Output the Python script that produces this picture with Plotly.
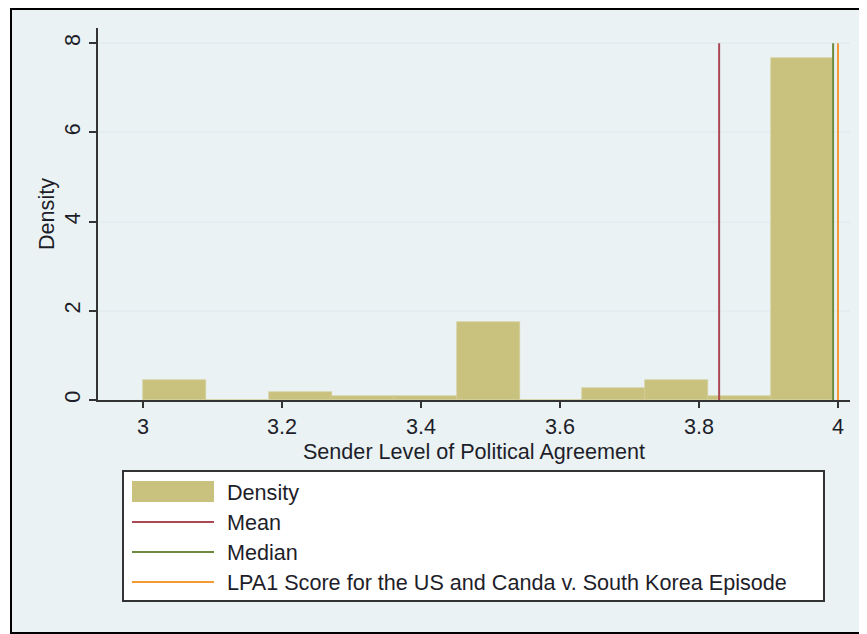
import plotly.graph_objects as go

# histogram bins (left edges) and density heights
BIN_LEFT = [3.000, 3.090, 3.181, 3.271, 3.361, 3.452, 3.542, 3.632, 3.722, 3.813, 3.903]
BIN_WIDTH = 0.0903
DENSITY = [0.44, 0.0, 0.18, 0.09, 0.09, 1.76, 0.0, 0.26, 0.44, 0.09, 7.66]

# reference lines
LINE_NAMES = ["Mean", "Median", "LPA1 Score for the US and Canda v. South Korea Episode"]
LINE_X = [3.829, 3.993, 4.0]
LINE_TOP = 8

X_TICKS = [3, 3.2, 3.4, 3.6, 3.8, 4]
X_TICK_TEXT = ["3", "3.2", "3.4", "3.6", "3.8", "4"]
Y_TICKS = [0, 2, 4, 6, 8]

BAR_COLOR = "#C9C27F"
LINE_COLORS = ["#AA4853", "#6E8B3D", "#F39A33"]
BG = "#EAF2F3"
INK = "#1E1E2A"
FONT = "Liberation Sans, Arial, sans-serif"
FS = 21.6

# page has an 8px body margin, so the figure is shifted by 8px
OFF = 8
W, H = 867 - OFF, 634 - OFF
ML, MR, MT, MB = 98 - OFF, 17, 28 - OFF, 234
PW, PH = W - ML - MR, H - MT - MB


def px(x):
    # screen pixel -> paper coordinate
    return (x - OFF - ML) / PW


def py(y):
    return (OFF + MT + PH - y) / PH


fig = go.Figure()

fig.add_trace(go.Bar(
    x=BIN_LEFT, y=DENSITY, width=BIN_WIDTH, offset=0,
    marker=dict(color=BAR_COLOR, line=dict(color="#D3CD96", width=0.6)),
    name="Density", showlegend=False,
))

for name, xv, col in zip(LINE_NAMES, LINE_X, LINE_COLORS):
    fig.add_trace(go.Scatter(
        x=[xv, xv], y=[0, LINE_TOP], mode="lines",
        line=dict(color=col, width=2), name=name, showlegend=False,
    ))

shapes = []
# grey graph region with black frame
shapes.append(dict(type="rect", xref="paper", yref="paper",
                   x0=px(11), x1=px(875), y0=py(9), y1=py(633),
                   fillcolor=BG, line=dict(color="black", width=2), layer="below"))

# legend drawn by hand (Stata style)
shapes.append(dict(type="rect", xref="paper", yref="paper",
                   x0=px(123), x1=px(824), y0=py(471), y1=py(601),
                   fillcolor="white", line=dict(color="#333333", width=2)))
shapes.append(dict(type="rect", xref="paper", yref="paper",
                   x0=px(132), x1=px(214), y0=py(481), y1=py(502),
                   fillcolor=BAR_COLOR, line=dict(width=0)))
annotations = [dict(xref="paper", yref="paper", x=px(225), y=py(492),
                    text="Density", showarrow=False, xanchor="left", yanchor="middle",
                    font=dict(size=FS, color=INK, family=FONT))]
for i, (name, col) in enumerate(zip(LINE_NAMES, LINE_COLORS)):
    yy = 522 + 30 * i
    shapes.append(dict(type="line", xref="paper", yref="paper",
                       x0=px(132), x1=px(214), y0=py(yy), y1=py(yy),
                       line=dict(color=col, width=2)))
    annotations.append(dict(xref="paper", yref="paper", x=px(225), y=py(yy),
                            text=name, showarrow=False, xanchor="left", yanchor="middle",
                            font=dict(size=FS, color=INK, family=FONT)))

fig.update_layout(
    width=W, height=H,
    margin=dict(l=ML, r=MR, t=MT, b=MB),
    paper_bgcolor="white",
    plot_bgcolor="white",
    bargap=0,
    showlegend=False,
    font=dict(family=FONT, size=FS, color=INK),
    shapes=shapes,
    annotations=annotations,
)

fig.update_xaxes(
    range=[2.9353, 4.0173],
    tickvals=X_TICKS, ticktext=X_TICK_TEXT,
    ticks="outside", ticklen=6, tickwidth=2, tickcolor="#333333",
    showline=True, linecolor="#333333", linewidth=2,
    showgrid=False, zeroline=False,
    title=dict(text="Sender Level of Political Agreement", standoff=0,
               font=dict(size=FS, color=INK, family=FONT)),
)
fig.update_yaxes(
    range=[0, 8.34],
    tickvals=Y_TICKS, tickangle=-90,
    ticks="outside", ticklen=7, tickwidth=2, tickcolor="#333333",
    showline=True, linecolor="#333333", linewidth=2,
    showgrid=True, gridcolor="#E4EEF0", gridwidth=1.5,
    zeroline=False,
    title=dict(text="Density", standoff=0, font=dict(size=FS, color=INK, family=FONT)),
)

fig.write_html("out.html")
